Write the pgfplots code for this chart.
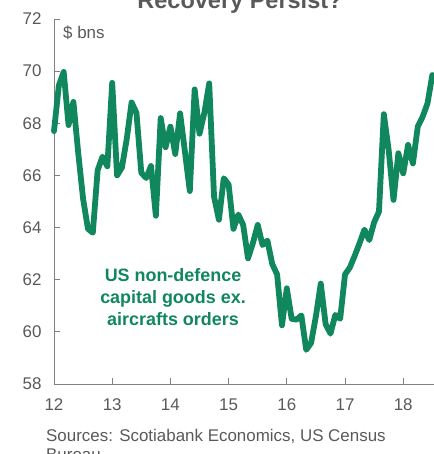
\documentclass[border=0pt]{standalone}
\usepackage{pgfplots}
\usepackage{pgfplotstable}
\pgfplotsset{compat=1.18}
\usepackage{fontspec}
\setmainfont{Liberation Sans}
\definecolor{sgreen}{RGB}{16,135,92}
\definecolor{tgray}{RGB}{89,89,89}
\definecolor{agray}{RGB}{128,128,128}
\pgfplotstableread{
m v
0 67.7
1 69.45
2 69.97
3 67.93
4 68.82
5 66.85
6 65.1
7 63.95
8 63.8
9 66.2
10 66.72
11 66.35
12 69.55
13 66.0
14 66.3
15 67.4
16 68.8
17 68.4
18 66.1
19 65.9
20 66.36
21 64.45
22 68.2
23 67.08
24 67.87
25 66.82
26 68.38
27 66.9
28 65.4
29 69.3
30 67.6
31 68.4
32 69.53
33 65.18
34 64.3
35 65.89
36 65.65
37 63.95
38 64.5
39 64.1
40 62.82
41 63.4
42 64.1
43 63.33
44 63.5
45 62.6
46 62.2
47 60.25
48 61.67
49 60.5
50 60.47
51 60.63
52 59.31
53 59.57
54 60.6
55 61.85
56 60.3
57 59.93
58 60.65
59 60.5
60 62.2
61 62.47
62 62.92
63 63.4
64 63.92
65 63.52
66 64.2
67 64.61
68 68.35
69 66.97
70 65.06
71 66.85
72 66.08
73 67.17
74 66.46
75 67.87
76 68.25
77 68.76
78 69.85
}\capgoods
\begin{document}
\begin{tikzpicture}[x=1bp,y=1bp]
\path[use as bounding box] (0,0) rectangle (434,454);
\begin{axis}[
  at={(54bp,70bp)}, anchor=south west,
  scale only axis, width=380bp, height=365bp,
  xmin=12, xmax=18.529, ymin=58, ymax=72,
  axis x line=bottom, axis y line=left,
  axis line style={-, agray, line width=0.9bp},
  xtick={12,13,...,18}, ytick={58,60,...,72},
  tick align=inside,
  major tick length=6bp,
  tick style={agray, line width=0.9bp},
  /pgf/number format/assume math mode=true,
  ticklabel style={font=\fontsize{17}{17}\selectfont, text=tgray},
  yticklabel style={xshift=-9bp},
  xticklabel style={yshift=-11bp},
  clip=false,
]
\addplot[sgreen, line width=5.8bp, line join=round, line cap=round]
  table[x expr=12+\thisrow{m}/12, y=v] {\capgoods};
\end{axis}
\node[anchor=base, font=\fontsize{23.6}{24}\selectfont\bfseries, text=tgray] at (240,445.5) {Recovery Persist?};
\node[anchor=west, font=\fontsize{17}{17}\selectfont, text=tgray, inner sep=0pt] at (63,421) {\$ bns};
\node[align=center, font=\fontsize{18}{21.7}\selectfont\bfseries, text=sgreen] at (173,157) {US non-defence\\capital goods ex.\\aircrafts orders};
\node[anchor=base west, font=\fontsize{17}{17}\selectfont, text=tgray, inner sep=0pt] at (46,12) {Sources: Scotiabank Economics, US Census};
\node[anchor=base west, font=\fontsize{17}{17}\selectfont, text=tgray, inner sep=0pt] at (46,-6) {Bureau.};
\end{tikzpicture}
\end{document}
